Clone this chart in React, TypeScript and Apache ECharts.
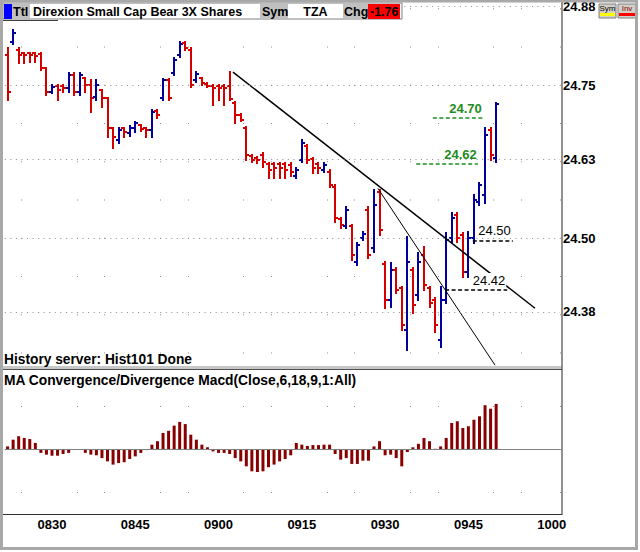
import React, { useEffect, useRef } from "react";
import * as echarts from "echarts";

// ---------- DATA ----------
const START_MINUTE = 8 * 60 + 22; // first category 08:22
const CATEGORY_COUNT = 100;
const CATEGORIES: string[] = Array.from({ length: CATEGORY_COUNT }, (_, k) => {
  const t = START_MINUTE + k;
  return String(Math.floor(t / 60)).padStart(2, "0") + String(t % 60).padStart(2, "0");
});
const TIME_LABELS = ["0830", "0845", "0900", "0915", "0930", "0945", "1000"];

const OPEN = [
  24.800, 24.821, 24.808, 24.803, 24.803, 24.803, 24.801, 24.779, 24.739, 24.749,
  24.749, 24.746, 24.767, 24.739, 24.762, 24.751, 24.731, 24.743, 24.730, 24.681,
  24.661, 24.681, 24.672, 24.681, 24.685, 24.681, 24.677, 24.708, 24.730, 24.759,
  24.770, 24.800, 24.820, 24.808, 24.759, 24.762, 24.752, 24.749, 24.749, 24.749,
  24.749, 24.721, 24.702, 24.681, 24.635, 24.632, 24.636, 24.622, 24.622, 24.622,
  24.622, 24.620, 24.602, 24.628, 24.651, 24.630, 24.622, 24.612, 24.609, 24.584,
  24.532, 24.520, 24.520, 24.462, 24.501, 24.547, 24.485, 24.576, 24.458, 24.400,
  24.449, 24.419, 24.350, 24.449, 24.408, 24.473, 24.419, 24.400, 24.334, 24.400,
  24.501, 24.538, 24.506, 24.445, 24.501, 24.560, 24.571, 24.677, 24.632,
];
const HIGH = [
  24.811, 24.841, 24.811, 24.803, 24.803, 24.803, 24.803, 24.779, 24.751, 24.751,
  24.751, 24.770, 24.770, 24.770, 24.762, 24.759, 24.759, 24.743, 24.730, 24.681,
  24.681, 24.681, 24.684, 24.690, 24.685, 24.681, 24.710, 24.710, 24.761, 24.761,
  24.795, 24.821, 24.821, 24.811, 24.772, 24.762, 24.754, 24.751, 24.751, 24.751,
  24.772, 24.723, 24.703, 24.682, 24.636, 24.633, 24.640, 24.623, 24.623, 24.623,
  24.623, 24.623, 24.615, 24.661, 24.653, 24.632, 24.623, 24.623, 24.612, 24.587,
  24.534, 24.551, 24.522, 24.493, 24.511, 24.551, 24.579, 24.579, 24.462, 24.460,
  24.452, 24.421, 24.502, 24.452, 24.476, 24.486, 24.421, 24.403, 24.421, 24.509,
  24.542, 24.542, 24.509, 24.511, 24.571, 24.591, 24.681, 24.681, 24.721,
];
const LOW = [
  24.726, 24.818, 24.787, 24.787, 24.788, 24.788, 24.775, 24.734, 24.738, 24.726,
  24.739, 24.739, 24.734, 24.734, 24.739, 24.707, 24.726, 24.715, 24.666, 24.648,
  24.656, 24.666, 24.667, 24.674, 24.676, 24.666, 24.666, 24.697, 24.726, 24.726,
  24.767, 24.797, 24.808, 24.748, 24.756, 24.751, 24.748, 24.718, 24.726, 24.718,
  24.726, 24.689, 24.692, 24.628, 24.625, 24.623, 24.617, 24.599, 24.599, 24.599,
  24.599, 24.602, 24.599, 24.625, 24.623, 24.607, 24.607, 24.609, 24.584, 24.527,
  24.517, 24.517, 24.465, 24.457, 24.498, 24.468, 24.478, 24.506, 24.386, 24.388,
  24.411, 24.350, 24.318, 24.378, 24.400, 24.416, 24.388, 24.347, 24.323, 24.395,
  24.494, 24.494, 24.437, 24.437, 24.493, 24.555, 24.558, 24.628, 24.625,
];
const CLOSE = [
  24.739, 24.836, 24.800, 24.800, 24.800, 24.798, 24.779, 24.739, 24.748, 24.743,
  24.746, 24.767, 24.739, 24.767, 24.751, 24.730, 24.751, 24.730, 24.681, 24.666,
  24.677, 24.674, 24.681, 24.689, 24.679, 24.677, 24.707, 24.702, 24.759, 24.730,
  24.792, 24.818, 24.811, 24.751, 24.769, 24.754, 24.749, 24.746, 24.746, 24.746,
  24.728, 24.702, 24.694, 24.636, 24.628, 24.628, 24.625, 24.612, 24.615, 24.615,
  24.612, 24.609, 24.612, 24.656, 24.628, 24.615, 24.615, 24.620, 24.587, 24.534,
  24.522, 24.547, 24.473, 24.489, 24.507, 24.473, 24.555, 24.514, 24.400, 24.449,
  24.416, 24.359, 24.462, 24.391, 24.462, 24.424, 24.395, 24.359, 24.400, 24.498,
  24.534, 24.501, 24.445, 24.501, 24.563, 24.587, 24.669, 24.636, 24.720,
];
const MACD_HIST = [
  0.0012, 0.0043, 0.0059, 0.0051, 0.0046, 0.0028, -0.0018, -0.0026, -0.0031, -0.0031,
  -0.0023, -0.0018, -0.0002, -0.0001, -0.0018, -0.0026, -0.0029, -0.0042, -0.0057, -0.0072,
  -0.0065, -0.0061, -0.0046, -0.0034, -0.0018, -0.0005, 0.0020, 0.0036, 0.0074, 0.0084,
  0.0108, 0.0125, 0.0115, 0.0066, 0.0043, 0.0020, 0.0008, -0.0011, -0.0018, -0.0018,
  -0.0023, -0.0042, -0.0057, -0.0080, -0.0103, -0.0106, -0.0103, -0.0084, -0.0072, -0.0057,
  -0.0046, -0.0029, 0.0028, 0.0020, 0.0014, 0.0018, 0.0018, 0.0020, 0.0020, -0.0023,
  -0.0049, -0.0042, -0.0069, -0.0069, -0.0054, -0.0054, 0.0012, 0.0036, -0.0029, -0.0026,
  -0.0042, -0.0080, -0.0014, 0.0008, 0.0024, 0.0051, 0.0036, 0.0001, 0.0012, 0.0051,
  0.0120, 0.0128, 0.0097, 0.0105, 0.0135, 0.0151, 0.0202, 0.0186, 0.0208,
];

const PRICE_TICKS = [24.375, 24.5, 24.625, 24.75, 24.875];
const PRICE_TICK_LABELS = ["24.38", "24.50", "24.63", "24.75", "24.88"];

// trend lines: [bar index, price]
const TREND_A = [[40.6, 24.772], [95.0, 24.386]];
const TREND_B = [[66.7, 24.582], [87.8, 24.293]];

// drawn price levels (bar index span)
const LEVEL_PRICES = [24.697, 24.622, 24.497, 24.416];
const LEVEL_FROM = [76.6, 73.6, 83.8, 78.8];
const LEVEL_TO = [85.6, 84.7, 91.0, 90.0];
const LEVEL_LABELS = ["24.70", "24.62", "24.50", "24.42"];
const LEVEL_KIND = ["target", "target", "pivot", "pivot"];

const TITLE_NAME = "Direxion Small Cap Bear 3X Shares";
const TITLE_SYMBOL = "TZA";
const TITLE_CHANGE = "-1.76";
const STATUS_TEXT = "History server: Hist101 Done";
const MACD_TITLE = "MA Convergence/Divergence Macd(Close,6,18,9,1:All)";

// ---------- STYLE ----------
const FONT = '"Liberation Sans", Arial, Helvetica, sans-serif';
const RED = "#d40000";
const BLUE = "#00009c";
const MACD_RED = "#880000";
const GRID_DOT = "#8c8c8c";
const GREEN = "#1e8c1e";

const isGridMinute = (_i: number, value: string) => {
  const m = parseInt(String(value).slice(2), 10);
  return m % 5 === 0 && m % 15 !== 0;
};
const isLabelMinute = (_i: number, value: string) => TIME_LABELS.indexOf(String(value)) >= 0;

const renderOhlc = (_params: any, api: any) => {
  const x = api.value(0);
  const o = api.value(1);
  const h = api.value(2);
  const l = api.value(3);
  const c = api.value(4);
  const top = api.coord([x, h]);
  const bottom = api.coord([x, l]);
  const po = api.coord([x, o]);
  const pc = api.coord([x, c]);
  const tick = Math.round(api.size([1, 0])[0] * 0.55);
  const cx = Math.round(top[0]);
  const color = c >= o ? BLUE : RED;
  const style = { stroke: color, lineWidth: 2, fill: null };
  const yo = Math.round(po[1]);
  const yc = Math.round(pc[1]);
  return {
    type: "group",
    children: [
      { type: "line", shape: { x1: cx, y1: Math.round(top[1]) - 1, x2: cx, y2: Math.round(bottom[1]) + 1 }, style },
      { type: "line", shape: { x1: cx - tick, y1: yo, x2: cx + 1, y2: yo }, style },
      { type: "line", shape: { x1: cx - 1, y1: yc, x2: cx + tick, y2: yc }, style },
    ],
  };
};

function txt(x: number, y: number, text: string, size: number, opts: any = {}) {
  return {
    type: "text",
    x,
    y,
    z: 110,
    silent: true,
    style: {
      text,
      fill: opts.fill || "#000",
      fontSize: size,
      fontWeight: opts.weight || "bold",
      fontFamily: FONT,
      textAlign: opts.align || "left",
      align: opts.align || "left",
      textVerticalAlign: "middle",
      verticalAlign: "middle",
    },
  };
}
function box(x: number, y: number, w: number, h: number, fill: string, stroke?: string, lw = 1) {
  return {
    type: "rect",
    z: 100,
    silent: true,
    shape: { x, y, width: w, height: h },
    style: { fill, stroke: stroke || null, lineWidth: lw },
  };
}
function seg(x1: number, y1: number, x2: number, y2: number, stroke: string, lw = 1) {
  return {
    type: "line",
    z: 105,
    silent: true,
    shape: { x1, y1, x2, y2 },
    style: { stroke, lineWidth: lw },
  };
}

function buildOption(): any {
  const ohlcData = OPEN.map((o, k) => [k, o, HIGH[k], LOW[k], CLOSE[k]]);
  const last = CLOSE.length - 1;

  const gridRows = PRICE_TICKS.map((v, k) => ({
    yAxis: v,
    lineStyle: { type: [1, 4.55], color: GRID_DOT, width: 1 },
    label: {
      show: true,
      position: "end",
      formatter: PRICE_TICK_LABELS[k],
      distance: 3,
      color: "#000",
      fontSize: 13,
      fontWeight: "bold",
      fontFamily: FONT,
    },
  }));
  const lastPrice = {
    yAxis: CLOSE[last],
    lineStyle: { opacity: 0, width: 0 },
    label: {
      show: true,
      position: "end",
      formatter: CLOSE[last].toFixed(2),
      distance: 1,
      color: "#fff",
      backgroundColor: "#000",
      padding: [2, 2, 1, 2],
      fontSize: 13,
      fontWeight: "bold",
      fontFamily: FONT,
    },
  };
  const levelLines = LEVEL_PRICES.map((p, k) => {
    const target = LEVEL_KIND[k] === "target";
    const color = target ? GREEN : "#000";
    return [
      {
        coord: [LEVEL_FROM[k], p],
        lineStyle: { type: [4, 2.5], color, width: 1.5, opacity: 1 },
        label: {
          show: true,
          position: "insideEndTop",
          formatter: LEVEL_LABELS[k],
          distance: [1, 3],
          color,
          fontSize: 13,
          fontWeight: target ? "bold" : "normal",
          fontFamily: FONT,
          backgroundColor: target ? "transparent" : "#fff",
          padding: target ? 0 : [1, 1, 0, 1],
        },
      },
      { coord: [LEVEL_TO[k], p] },
    ];
  });

  const graphics: any[] = [
    // frame
    { type: "rect", z: 120, silent: true, shape: { x: 1.5, y: 1, width: 635, height: 547.5 }, style: { fill: null, stroke: "#a8a8a8", lineWidth: 3 } },
    seg(562, 0, 562, 515, "#6c6c6c", 1.5),
    box(3, 366, 559, 3, "#c8c8c8"),
    seg(3, 369.5, 562, 369.5, "#505050", 1),
    seg(3, 514.5, 562, 514.5, "#303030", 1),
    // title bar
    box(3, 3, 399, 16, "#ffffff", "#808080", 1),
    box(4, 4, 8, 15, "#0000ff"),
    box(12, 4, 18, 15, "#c0c0c0"),
    box(260, 4, 28, 15, "#c0c0c0"),
    box(343, 4, 25, 15, "#c0c0c0"),
    box(368, 4, 32, 15, "#ff0000"),
    seg(3, 20.5, 58, 20.5, "#404040", 1),
    txt(13, 12, "Ttl", 12.5),
    txt(33, 12, TITLE_NAME, 12.5),
    txt(262, 12, "Sym", 12.5),
    txt(315.5, 12, TITLE_SYMBOL, 12.5, { align: "center" }),
    txt(344, 12, "Chg", 12.5),
    txt(370, 12, TITLE_CHANGE, 12.5),
    // right buttons
    box(599, 4, 17, 14, "#d4d0c8", "#808080", 1),
    box(600, 13, 15, 3, "#ffff00"),
    txt(607.5, 8.5, "Sym", 8, { align: "center", weight: "normal" }),
    box(618, 4, 18, 14, "#d4d0c8", "#808080", 1),
    box(619, 13, 16, 3, "#ff0000"),
    txt(627, 8.5, "Inv", 8, { align: "center", weight: "normal", fill: "#800000" }),
    // panel texts
    txt(4, 359, STATUS_TEXT, 13.75),
    txt(4, 380, MACD_TITLE, 13.8),
  ];

  return {
    animation: false,
    backgroundColor: "#ffffff",
    textStyle: { fontFamily: FONT },
    grid: [
      { left: 4.8, top: 3, width: 555.2, height: 364 },
      { left: 4.8, top: 384, width: 555.2, height: 130 },
    ],
    xAxis: [
      {
        type: "category",
        gridIndex: 0,
        data: CATEGORIES,
        boundaryGap: true,
        axisLine: { show: false },
        axisTick: { show: false },
        axisLabel: { show: false },
        splitLine: {
          show: true,
          interval: isGridMinute,
          lineStyle: { color: GRID_DOT, width: 1, type: [1, 37.25], dashOffset: 32.75 },
        },
      },
      { type: "value", gridIndex: 0, min: -0.5, max: 99.5, show: false },
      {
        type: "category",
        gridIndex: 1,
        data: CATEGORIES,
        boundaryGap: true,
        axisLine: { show: false },
        axisTick: { show: false },
        axisLabel: {
          show: true,
          interval: isLabelMinute,
          color: "#000",
          fontSize: 13,
          fontWeight: "bold",
          fontFamily: FONT,
          margin: 4,
        },
        splitLine: {
          show: true,
          interval: isGridMinute,
          lineStyle: { color: GRID_DOT, width: 1, type: [1, 42], dashOffset: 21 },
        },
      },
    ],
    yAxis: [
      { type: "value", gridIndex: 0, min: 24.29, max: 24.885, show: false, splitLine: { show: false } },
      { type: "value", gridIndex: 1, min: -0.03, max: 0.03, show: false, splitLine: { show: false } },
    ],
    series: [
      {
        name: "TZA",
        type: "custom",
        xAxisIndex: 0,
        yAxisIndex: 0,
        data: ohlcData,
        encode: { x: 0, y: [1, 2, 3, 4] },
        renderItem: renderOhlc,
        silent: true,
        clip: true,
        z: 2,
      },
      {
        name: "Trend A",
        type: "line",
        xAxisIndex: 1,
        yAxisIndex: 0,
        data: TREND_A,
        symbol: "none",
        silent: true,
        z: 3,
        lineStyle: { color: "#000", width: 1.5 },
        markLine: {
          silent: true,
          symbol: ["none", "none"],
          animation: false,
          data: [...gridRows, lastPrice, ...levelLines],
        },
      },
      {
        name: "Trend B",
        type: "line",
        xAxisIndex: 1,
        yAxisIndex: 0,
        data: TREND_B,
        symbol: "none",
        silent: true,
        z: 3,
        lineStyle: { color: "#000", width: 1 },
      },
      {
        name: "MACD",
        type: "bar",
        xAxisIndex: 2,
        yAxisIndex: 1,
        data: MACD_HIST,
        barWidth: 3,
        silent: true,
        itemStyle: { color: MACD_RED },
        markLine: {
          silent: true,
          symbol: ["none", "none"],
          animation: false,
          label: { show: false },
          lineStyle: { color: "#808080", width: 1, type: "solid" },
          data: [{ yAxis: 0 }],
        },
      },
    ],
    graphic: { elements: graphics },
  };
}

export default function App() {
  const ref = useRef<HTMLDivElement>(null);
  useEffect(() => {
    if (!ref.current) return;
    const chart = echarts.init(ref.current, undefined, { renderer: "svg" });
    chart.setOption(buildOption());
    return () => {
      chart.dispose();
    };
  }, []);
  return (
    <div
      ref={ref}
      style={{ position: "absolute", left: 0, top: 0, width: 640, height: 552, background: "#fff" }}
    />
  );
}
